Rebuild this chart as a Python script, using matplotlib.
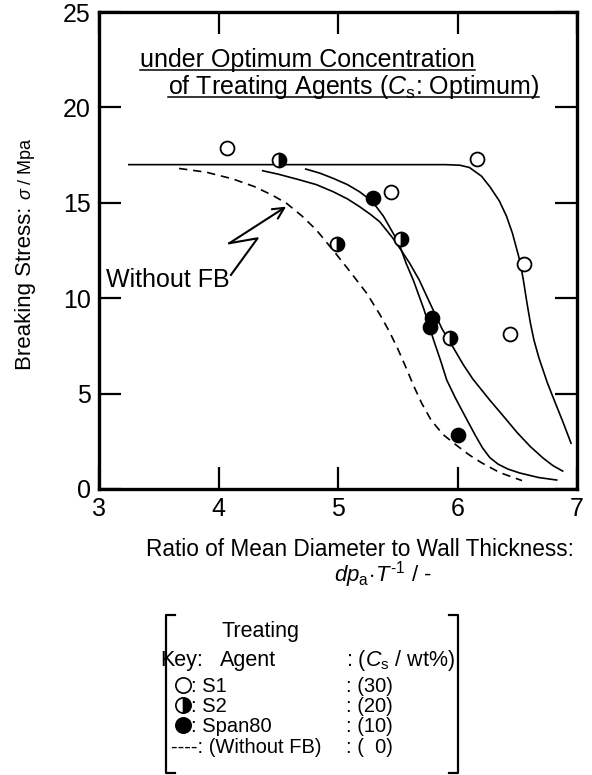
import matplotlib
matplotlib.use('Agg')
import matplotlib.pyplot as plt
from matplotlib.lines import Line2D

plt.rcParams['font.family'] = ['Liberation Sans', 'DejaVu Sans']
plt.rcParams['mathtext.fontset'] = 'custom'
plt.rcParams['mathtext.rm'] = 'Liberation Sans'
plt.rcParams['mathtext.it'] = 'Liberation Sans:italic'
plt.rcParams['mathtext.bf'] = 'Liberation Sans:bold'

# ---------------- data ----------------
s1_pts_x = [4.07, 6.16, 5.44, 6.56, 6.44]
s1_pts_y = [17.87, 17.30, 15.55, 11.78, 8.11]
s2_pts_x = [4.51, 4.99, 5.53, 5.94]
s2_pts_y = [17.24, 12.84, 13.10, 7.90]
span_pts_x = [5.29, 5.79, 5.77, 6.00]
span_pts_y = [15.25, 8.95, 8.51, 2.83]

s1_curve_x = [3.25, 4.0, 5.0, 5.9, 6.02, 6.1, 6.2, 6.27, 6.35, 6.41, 6.46, 6.49, 6.52,
              6.55, 6.58, 6.61, 6.64, 6.68, 6.75, 6.80, 6.88, 6.95]
s1_curve_y = [17.0, 17.0, 17.0, 17.0, 16.97, 16.85, 16.4, 15.85, 15.1, 14.3, 13.4, 12.7, 12.0,
              11.0, 9.8, 8.7, 7.8, 6.9, 5.6, 4.8, 3.55, 2.4]

a_curve_x = [4.37, 4.5, 4.68, 4.82, 4.96, 5.08, 5.18, 5.27, 5.35, 5.46, 5.53, 5.60, 5.68,
             5.78, 5.87, 5.96, 6.05, 6.13, 6.27, 6.40, 6.50, 6.61, 6.72, 6.80, 6.88]
a_curve_y = [16.68, 16.5, 16.2, 15.95, 15.58, 15.2, 14.8, 14.4, 14.0, 13.14, 12.5, 11.83, 10.95,
             9.6, 8.4, 7.46, 6.5, 5.75, 4.66, 3.7, 2.95, 2.22, 1.6, 1.22, 0.94]

b_curve_x = [4.73, 4.85, 4.96, 5.08, 5.18, 5.26, 5.32, 5.38, 5.43, 5.48, 5.52, 5.57, 5.63,
             5.72, 5.80, 5.86, 5.91, 5.98, 6.05, 6.15, 6.21, 6.27, 6.34, 6.42, 6.52, 6.68, 6.83]
b_curve_y = [16.77, 16.55, 16.28, 15.95, 15.58, 15.2, 14.8, 14.3, 13.75, 13.2, 12.7, 11.83, 10.95,
             9.4, 7.81, 6.7, 5.71, 4.8, 3.97, 2.8, 2.15, 1.65, 1.3, 1.05, 0.84, 0.6, 0.47]

nofb_curve_x = [3.67, 3.9, 4.12, 4.3, 4.45, 4.57, 4.7, 4.82, 4.98, 5.1, 5.24, 5.35, 5.43,
                5.5, 5.57, 5.63, 5.7, 5.78, 5.88, 6.0, 6.1, 6.2, 6.35, 6.54]
nofb_curve_y = [16.8, 16.6, 16.25, 15.85, 15.4, 14.97, 14.3, 13.57, 12.35, 11.4, 10.26, 9.15, 8.25,
                7.35, 6.35, 5.45, 4.5, 3.6, 2.85, 2.25, 1.78, 1.38, 0.87, 0.44]

x_ticks = [3, 4, 5, 6, 7]
y_ticks = [0, 5, 10, 15, 20, 25]

legend_agents = ['S1', 'S2', 'Span80']
legend_conc = ['(30)', '(20)', '(10)']

# ---------------- figure ----------------
W, H = 592, 775
fig = plt.figure(figsize=(W / 100, H / 100), dpi=100)


def fx(px):
    return px / W


def fy(py):
    return 1 - py / H


ax = fig.add_axes([fx(99), fy(489), (577 - 99) / W, (489 - 12) / H])
ax.set_xlim(3, 7)
ax.set_ylim(0, 25)
ax.set_xticks(x_ticks)
ax.set_yticks(y_ticks)
ax.tick_params(direction='in', length=16, width=1.6, top=True, right=True,
               labelsize=18, pad=6)
for sp in ax.spines.values():
    sp.set_linewidth(2.4)

lw = 1.2
ax.plot(s1_curve_x, s1_curve_y, color='black', lw=lw, zorder=2)
ax.plot(a_curve_x, a_curve_y, color='black', lw=lw, zorder=2)
ax.plot(b_curve_x, b_curve_y, color='black', lw=lw, zorder=2)
ax.plot(nofb_curve_x, nofb_curve_y, color='black', lw=lw, ls=(0, (5, 3.5)), zorder=2)

ms = 10
mew = 1.3
ax.plot(s1_pts_x, s1_pts_y, ls='none', marker='o', ms=ms, mfc='white', mec='black', mew=mew, zorder=3)
ax.plot(s2_pts_x, s2_pts_y, ls='none', marker='o', ms=ms, fillstyle='right', mfc='black',
        markerfacecoloralt='white', mec='black', mew=mew, zorder=3)
ax.plot(span_pts_x, span_pts_y, ls='none', marker='o', ms=ms, mfc='black', mec='black', mew=mew, zorder=3)

# annotation "Without FB" with zigzag arrow
ax.text(3.06, 10.6, 'Without FB', fontsize=18, ha='left', va='baseline')
ax.plot([4.104, 4.327, 4.09], [11.22, 13.14, 12.88], color='black', lw=1.5)
ax.annotate('', xy=(4.566, 14.80), xytext=(4.09, 12.88),
            arrowprops=dict(arrowstyle='->', lw=1.5, color='black', mutation_scale=20,
                            shrinkA=0, shrinkB=0))

# titles (underlined)
t1 = fig.text(fx(140), fy(67), 'under Optimum Concentration', fontsize=18, ha='left', va='baseline')
t2 = fig.text(fx(168), fy(94), r'of Treating Agents ($C_{\mathrm{s}}$: Optimum)', fontsize=18,
              ha='left', va='baseline')

# axis labels
fig.text(fx(146), fy(556), 'Ratio of Mean Diameter to Wall Thickness:', fontsize=16.3,
         ha='left', va='baseline')
xl2 = r'$dp_{\mathrm{a}}\!\cdot\!T^{' + '\u2010' + r'1}$ / -'
fig.text(fx(383), fy(582), xl2, fontsize=16, ha='center', va='baseline')

ylab = fig.text(fx(31), fy(370), 'Breaking Stress:', fontsize=16, rotation=90,
                rotation_mode='anchor', ha='left', va='baseline')

# legend block texts
leg_main = 15.5
leg_row = 14.5
col = 346
fig.text(fx(221), fy(637), 'Treating', fontsize=leg_main, ha='left', va='baseline')
fig.text(fx(160), fy(666), 'Key:', fontsize=leg_main, ha='left', va='baseline')
fig.text(fx(220), fy(666), 'Agent', fontsize=leg_main, ha='left', va='baseline')
tcs = fig.text(fx(col), fy(666), r': ($C_{\mathrm{s}}$ / wt%)', fontsize=leg_main, ha='left', va='baseline')

row_y = [685, 705, 725]
styles = [dict(mfc='white'), dict(fillstyle='right', mfc='black', markerfacecoloralt='white'),
          dict(mfc='black')]
for name, conc, yy, st in zip(legend_agents, legend_conc, row_y, styles):
    fig.add_artist(Line2D([fx(183)], [fy(yy)], marker='o', ms=11, mec='black', mew=1.2,
                          transform=fig.transFigure, **st))
    fig.text(fx(191), fy(yy + 7), ': ' + name, fontsize=leg_row, ha='left', va='baseline')
    fig.text(fx(col), fy(yy + 7), ': ' + conc, fontsize=leg_row, ha='left', va='baseline')
fig.text(fx(171), fy(753), '----: (Without FB)', fontsize=leg_row, ha='left', va='baseline')
fig.text(fx(col), fy(753), ': (  0)', fontsize=leg_row, ha='left', va='baseline')

# ---- layout using rendered text extents ----
fig.canvas.draw()
r = fig.canvas.get_renderer()
for t, base in ((t1, 67), (t2, 94)):
    bb = t.get_window_extent(r)
    fig.add_artist(Line2D([bb.x0 / W, bb.x1 / W], [fy(base + 3), fy(base + 3)], color='black',
                          lw=1.1, transform=fig.transFigure))
yb = ylab.get_window_extent(r)
fig.text(fx(31), (yb.y1 + 7) / H, r'$\sigma$ / Mpa', fontsize=13, rotation=90,
         rotation_mode='anchor', ha='left', va='baseline')

cb = tcs.get_window_extent(r)
xl, xr = 166, max(452, cb.x1 + 3)
ytop, ybot = 615, 773
blw = 1.6
for xs, ys in (([xl + 9, xl, xl, xl + 9], [ytop, ytop, ybot, ybot]),
               ([xr - 9, xr, xr, xr - 9], [ytop, ytop, ybot, ybot])):
    fig.add_artist(Line2D([x / W for x in xs], [fy(y) for y in ys], color='black', lw=blw,
                          transform=fig.transFigure))

fig.savefig('out.png', dpi=100)
